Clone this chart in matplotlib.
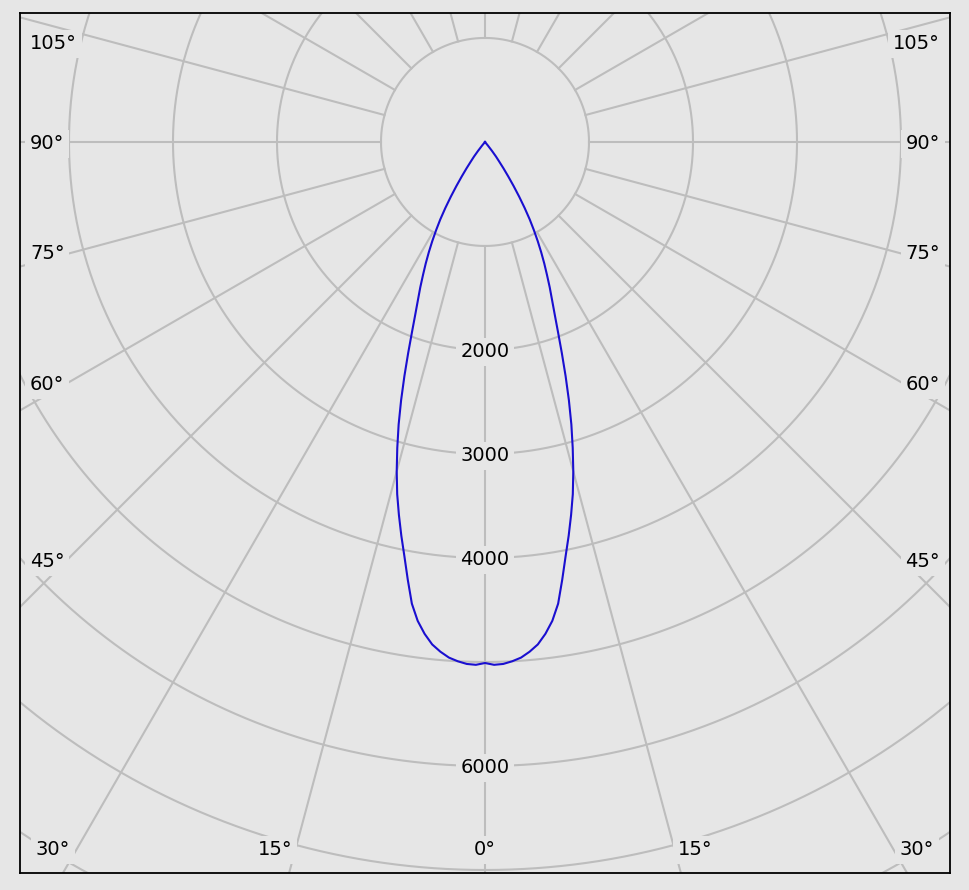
import numpy as np
import matplotlib
matplotlib.use('Agg')
import matplotlib.pyplot as plt

# 光强分布 (cd), 角度从正下方算起, 左右对称
gamma_deg = list(range(0, 41))
intensity = [5010, 5028, 5022, 5000, 4970, 4920, 4858, 4765, 4650, 4495,
             4275, 4060, 3870, 3680, 3490, 3280, 3060, 2840, 2610, 2380,
             2160, 1960, 1790, 1650, 1530, 1410, 1300, 1190, 1080, 970,
             860, 740, 620, 505, 400, 310, 230, 175, 110, 45, 0]

ring_values = [1000, 2000, 3000, 4000, 5000, 6000, 7000, 8000, 9000]
ring_labels = [2000, 3000, 4000, 6000]
spoke_angles = list(range(0, 360, 15))

# 角度标签位置 (数据坐标)
side_labels = ['105°', '90°', '75°', '60°', '45°']
side_label_y = [962, 0, -1058, -2317, -4019]
bottom_labels = ['30°', '15°', '0°', '15°', '30°']
bottom_label_x = [-4154, -2019, 0, 2019, 4154]
bottom_label_y = -6788

bg = '#e6e6e6'
grid_c = '#bdbdbd'

fig = plt.figure(figsize=(9.69, 8.90), dpi=100, facecolor=bg)
ax = fig.add_axes((20 / 969, 17 / 890, 930 / 969, 860 / 890))
ax.set_facecolor(bg)
ax.set_xlim(-4471, 4471)
ax.set_ylim(-7029, 1240)
ax.set_aspect('equal')
ax.set_xticks([])
ax.set_yticks([])
for s in ax.spines.values():
    s.set_linewidth(1.3)
    s.set_color('black')

# 同心圆
t = np.linspace(0, 2 * np.pi, 721)
for r in ring_values:
    ax.plot(r * np.cos(t), r * np.sin(t), color=grid_c, lw=1.5, zorder=1)

# 径向线 (从 1000 圆开始)
for a in spoke_angles:
    rad = np.radians(a)
    ax.plot([1000 * np.sin(rad), 12000 * np.sin(rad)],
            [-1000 * np.cos(rad), -12000 * np.cos(rad)],
            color=grid_c, lw=1.5, zorder=1)

box = dict(boxstyle='square,pad=0.25', facecolor=bg, edgecolor='none')
fs = 14

for r in ring_labels:
    ax.text(0, -r, str(r), ha='center', va='center_baseline', fontsize=fs, bbox=box, zorder=3)

for lab, y in zip(side_labels, side_label_y):
    ax.text(-4375, y, lab, ha='left', va='center_baseline', fontsize=fs, bbox=box, zorder=3)
    ax.text(4375, y, lab, ha='right', va='center_baseline', fontsize=fs, bbox=box, zorder=3)

for lab, x in zip(bottom_labels, bottom_label_x):
    ax.text(x, bottom_label_y, lab, ha='center', va='center_baseline', fontsize=fs, bbox=box, zorder=3)

# 曲线
g = np.radians(np.array(gamma_deg))
I = np.array(intensity)
g_full = np.concatenate([-g[::-1], g[1:]])
I_full = np.concatenate([I[::-1], I[1:]])
ax.plot(I_full * np.sin(g_full), -I_full * np.cos(g_full), color='#1a0fd0', lw=1.5,
        zorder=4, solid_joinstyle='round')

fig.savefig('out.png', dpi=100, facecolor=bg)
